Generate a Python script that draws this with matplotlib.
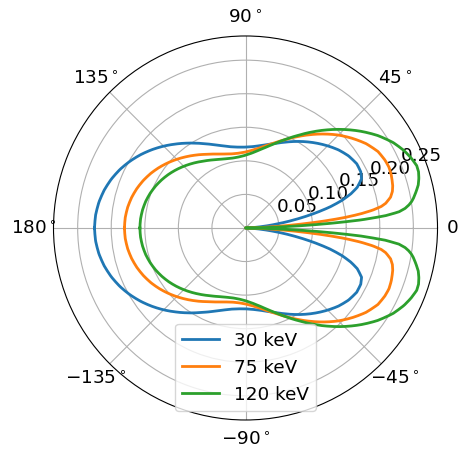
import numpy as np
import matplotlib
matplotlib.use('Agg')
import matplotlib.pyplot as plt

# scattering angle (deg) and the cross section for each beam energy,
# upper half only; the lower half is the mirror image
angles_deg = [0, 1, 2, 3, 4, 5, 6, 7, 8, 9, 10, 12, 14, 16, 18, 20, 23, 26,
              30, 35, 40, 45, 50, 55, 60, 65, 70, 75, 80, 85, 90, 95, 100,
              105, 110, 115, 120, 125, 130, 135, 140, 145, 150, 155, 160,
              165, 170, 175, 180]

sigma_30kev = [0.0, 0.0024, 0.0048, 0.0103, 0.0175, 0.0253, 0.0349, 0.0443,
               0.0559, 0.0676, 0.0799, 0.1051, 0.1297, 0.1496, 0.1652, 0.1771,
               0.1878, 0.1910, 0.1913, 0.1873, 0.1809, 0.1730, 0.1649, 0.1568,
               0.1488, 0.1411, 0.1342, 0.1286, 0.1243, 0.1216, 0.1204, 0.1208,
               0.1227, 0.1264, 0.1316, 0.1382, 0.1458, 0.1542, 0.1631, 0.1724,
               0.1816, 0.1905, 0.1988, 0.2063, 0.2127, 0.2179, 0.2217, 0.2241,
               0.2249]

sigma_75kev = [0.0, 0.0068, 0.0260, 0.0515, 0.0828, 0.1164, 0.1478, 0.1727,
               0.1915, 0.2047, 0.2121, 0.2209, 0.2255, 0.2281, 0.2296, 0.2310,
               0.2321, 0.2310, 0.2278, 0.2191, 0.2077, 0.1957, 0.1827, 0.1698,
               0.1574, 0.1460, 0.1359, 0.1276, 0.1210, 0.1162, 0.1131, 0.1118,
               0.1121, 0.1140, 0.1171, 0.1214, 0.1265, 0.1323, 0.1384, 0.1447,
               0.1510, 0.1571, 0.1628, 0.1678, 0.1721, 0.1756, 0.1782, 0.1798,
               0.1803]

sigma_120kev = [0.0, 0.0194, 0.0625, 0.1191, 0.1726, 0.2088, 0.2297, 0.2395,
                0.2457, 0.2504, 0.2539, 0.2597, 0.2652, 0.2686, 0.2710, 0.2714,
                0.2677, 0.2628, 0.2542, 0.2402, 0.2241, 0.2075, 0.1909, 0.1748,
                0.1597, 0.1464, 0.1349, 0.1253, 0.1177, 0.1121, 0.1083, 0.1063,
                0.1058, 0.1068, 0.1089, 0.1120, 0.1159, 0.1203, 0.1251, 0.1300,
                0.1349, 0.1396, 0.1439, 0.1478, 0.1511, 0.1538, 0.1557, 0.1569,
                0.1573]

labels = ['30 keV', '75 keV', '120 keV']
r_ticks = [0.05, 0.10, 0.15, 0.20, 0.25]
theta_ticks = [0, 45, 90, 135, 180, 225, 270, 315]
theta_labels = [r'$0^\circ$', r'$45^\circ$', r'$90^\circ$', r'$135^\circ$',
                r'$180^\circ$', r'$-135^\circ$', r'$-90^\circ$', r'$-45^\circ$']

plt.rcParams['font.size'] = 13.2


def full_curve(angles, values):
    ''' mirror the 0..180 deg half onto -180..0 '''
    ang = np.asarray(angles, dtype=float)
    val = np.asarray(values, dtype=float)
    theta = np.deg2rad(np.concatenate([-ang[::-1], ang[1:]]))
    r = np.concatenate([val[::-1], val[1:]])
    return theta, r


fig = plt.figure(figsize=(4.62, 4.52), dpi=100)
ax = fig.add_axes([0.1158, 0.0686, 0.8312, 0.8496], projection='polar')

for values, label in zip([sigma_30kev, sigma_75kev, sigma_120kev], labels):
    theta, r = full_curve(angles_deg, values)
    line, = ax.plot(theta, r, lw=2, label=label)
    # let the polar transform bend the segments instead of straight chords
    line.get_path()._interpolation_steps = 20

ax.set_rmax(0.286)
ax.set_rticks(r_ticks)
ax.set_yticklabels([f'{t:.2f}' for t in r_ticks])
ax.set_xticks(np.deg2rad(theta_ticks))
ax.set_xticklabels(theta_labels)
ax.legend(loc='lower center')

fig.savefig('out.png', dpi=100)
